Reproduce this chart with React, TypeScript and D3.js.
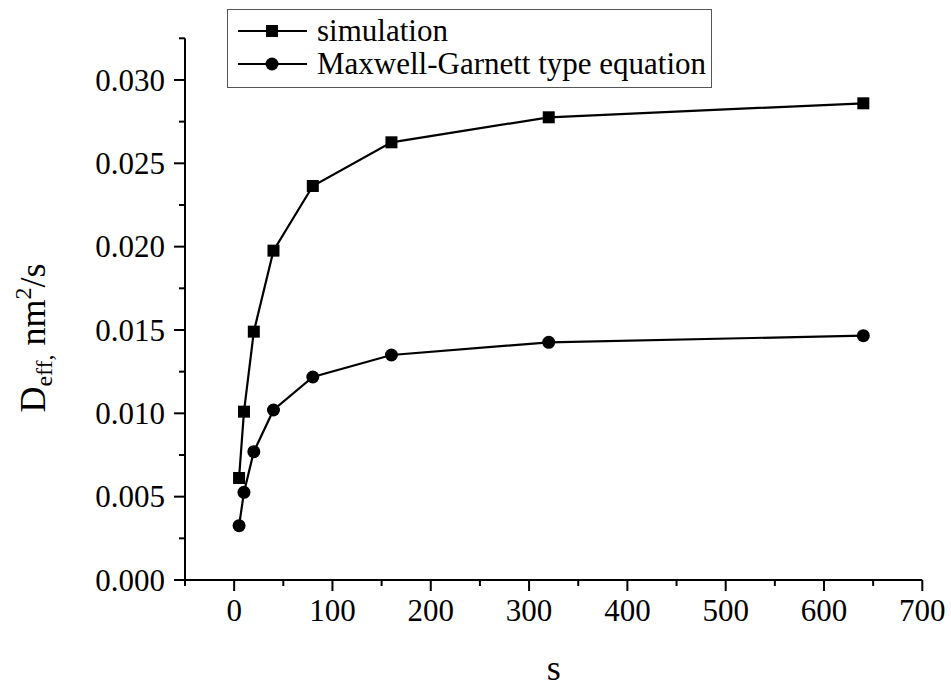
import React from "react";
import * as d3 from "d3";

const xValues = [5, 10, 20, 40, 80, 160, 320, 640];
const simulation = [0.00612, 0.0101, 0.0149, 0.01976, 0.02364, 0.02626, 0.02776, 0.0286];
const maxwellGarnett = [0.00326, 0.00526, 0.0077, 0.0102, 0.01218, 0.0135, 0.01426, 0.01466];
const xTicks = [0, 100, 200, 300, 400, 500, 600, 700];
const yTicks = [0, 0.005, 0.01, 0.015, 0.02, 0.025, 0.03];
const seriesNames = ["simulation", "Maxwell-Garnett type equation"];

const W = 951;
const H = 688;
const FONT = "'Liberation Serif', 'Times New Roman', serif";

export default function App() {
  const x = d3.scaleLinear().domain([-50, 700]).range([185, 922.3]);
  const y = d3.scaleLinear().domain([0, 0.0325]).range([580, 38.3]);
  const line = d3
    .line<[number, number]>()
    .x((d) => x(d[0]))
    .y((d) => y(d[1]));

  const simPts: [number, number][] = xValues.map((v, i) => [v, simulation[i]]);
  const mgPts: [number, number][] = xValues.map((v, i) => [v, maxwellGarnett[i]]);

  const xMinor = d3.range(-50, 701, 50).filter((v) => v % 100 !== 0);
  const yMinor = d3.range(0.0025, 0.0326, 0.005);

  const [x0, x1] = x.range();
  const [y0, y1] = y.range();

  return (
    <svg width={W} height={H} style={{ position: "absolute", left: 0, top: 0, background: "#fff" }} fontFamily={FONT}>
      <rect width={W} height={H} fill="#fff" />
      {/* series lines */}
      <path d={line(simPts) || ""} fill="none" stroke="#000" strokeWidth={2.2} />
      <path d={line(mgPts) || ""} fill="none" stroke="#000" strokeWidth={2.2} />
      {simPts.map((p, i) => (
        <rect key={"s" + i} x={x(p[0]) - 6} y={y(p[1]) - 6} width={12} height={12} fill="#000" />
      ))}
      {mgPts.map((p, i) => (
        <circle key={"c" + i} cx={x(p[0])} cy={y(p[1])} r={6.5} fill="#000" />
      ))}

      {/* axes */}
      <line x1={x0} x2={x1} y1={y0} y2={y0} stroke="#000" strokeWidth={2} />
      <line x1={x0} x2={x0} y1={y0} y2={y1} stroke="#000" strokeWidth={2} />
      {xTicks.map((t) => (
        <g key={"xt" + t}>
          <line x1={x(t)} x2={x(t)} y1={y0} y2={y0 + 11} stroke="#000" strokeWidth={2} />
          <text x={x(t)} y={621} fontSize={31} textAnchor="middle">
            {t}
          </text>
        </g>
      ))}
      {xMinor.map((t) => (
        <line key={"xm" + t} x1={x(t)} x2={x(t)} y1={y0} y2={y0 + 6} stroke="#000" strokeWidth={2} />
      ))}
      {yTicks.map((t) => (
        <g key={"yt" + t}>
          <line x1={x0 - 11} x2={x0} y1={y(t)} y2={y(t)} stroke="#000" strokeWidth={2} />
          <text x={165} y={y(t)} dy="0.34em" fontSize={31} textAnchor="end">
            {t.toFixed(3)}
          </text>
        </g>
      ))}
      {yMinor.map((t) => (
        <line key={"ym" + t} x1={x0 - 6} x2={x0} y1={y(t)} y2={y(t)} stroke="#000" strokeWidth={2} />
      ))}

      {/* axis titles */}
      <text x={(x0 + x1) / 2} y={680} fontSize={36} textAnchor="middle">
        s
      </text>
      <text transform="translate(45,338) rotate(-90)" fontSize={36} textAnchor="middle">
        D
        <tspan fontSize={24} dy={7}>
          eff,
        </tspan>
        <tspan dy={-7}> nm</tspan>
        <tspan fontSize={24} dy={-14}>
          2
        </tspan>
        <tspan dy={14}>/s</tspan>
      </text>

      {/* legend */}
      <rect x={227.5} y={9.5} width={484} height={78} fill="#fff" stroke="#555" strokeWidth={1} />
      <line x1={238} x2={307} y1={31} y2={31} stroke="#000" strokeWidth={2.2} />
      <rect x={272 - 6} y={31 - 6} width={12} height={12} fill="#000" />
      <text x={317} y={41} fontSize={31}>
        {seriesNames[0]}
      </text>
      <line x1={238} x2={307} y1={64} y2={64} stroke="#000" strokeWidth={2.2} />
      <circle cx={272} cy={64} r={6.5} fill="#000" />
      <text x={317} y={74} fontSize={31}>
        {seriesNames[1]}
      </text>
    </svg>
  );
}
